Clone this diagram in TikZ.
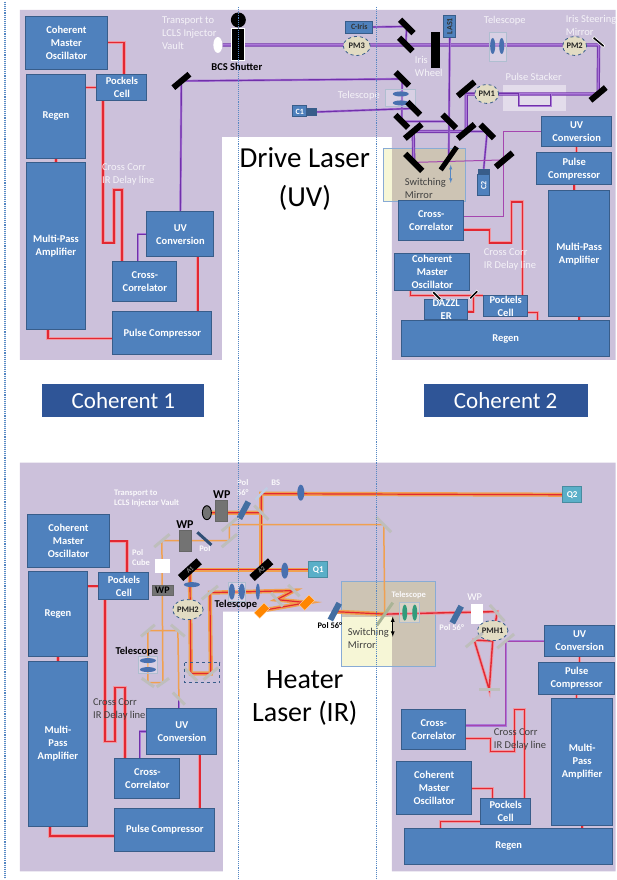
\documentclass[tikz,border=0pt]{standalone}
\usepackage{fontspec}
\setmainfont{Carlito}
\usetikzlibrary{shapes.geometric}
\tikzset{>=latex}
\pgfdeclarelayer{panel}
\pgfdeclarelayer{beam}
\pgfsetlayers{panel,beam,main}
\definecolor{panel_purple}{RGB}{204,193,219}
\definecolor{box_blue}{RGB}{79,129,189}
\definecolor{box_edge}{RGB}{56,93,138}
\definecolor{title_blue}{RGB}{47,85,151}
\definecolor{beam_red}{RGB}{226,40,50}
\definecolor{beam_pink}{RGB}{240,150,160}
\definecolor{beam_orange}{RGB}{240,160,80}
\definecolor{beam_violet}{RGB}{112,48,170}
\definecolor{beam_lilac}{RGB}{170,120,215}
\definecolor{beam_magenta}{RGB}{165,70,175}
\definecolor{mirror_grey}{RGB}{190,190,188}
\definecolor{mirror_green}{RGB}{170,180,150}
\definecolor{lens_blue}{RGB}{72,112,175}
\definecolor{monitor_tan}{RGB}{226,220,195}
\definecolor{switch_tan}{RGB}{205,196,180}
\definecolor{switch_pale}{RGB}{246,246,214}
\definecolor{wp_grey}{RGB}{115,115,115}
\definecolor{q_teal}{RGB}{90,175,200}
\definecolor{dotted_blue}{RGB}{85,135,195}
\begin{document}
\begin{tikzpicture}[x=1pt,y=-1pt]

	\tikzstyle{blue_box} = [rectangle, draw=box_edge, line width=0.9pt, fill=box_blue, text=white, align=center, inner sep=0pt, font=\fontsize{10.5}{13}\selectfont\bfseries]
	\tikzstyle{title_box} = [rectangle, fill=title_blue, text=white, minimum width=162, minimum height=33, font=\fontsize{23}{27}\selectfont]
	\tikzstyle{big_text} = [align=center, font=\fontsize{29}{38.5}\selectfont]
	\tikzstyle{pale_text} = [text=white!80!panel_purple, align=left, inner sep=0pt, font=\fontsize{10.5}{13}\selectfont]
	\tikzstyle{small_white} = [text=white!90!panel_purple, align=left, inner sep=0pt, font=\fontsize{8.5}{10}\selectfont\bfseries]
	\tikzstyle{dark_text} = [text=black!75, align=left, inner sep=0pt, font=\fontsize{10.5}{13}\selectfont]
	\tikzstyle{bold_black} = [text=black, inner sep=0pt, font=\fontsize{10.5}{12}\selectfont\bfseries]
	\tikzstyle{monitor} = [ellipse, draw=box_edge, dashed, line width=0.8pt, fill=monitor_tan, text=black!85, inner sep=0pt, font=\fontsize{8.5}{10}\selectfont\bfseries]
	\tikzstyle{mirror_black} = [rectangle, fill=black, minimum height=6, inner sep=0pt]
	\tikzstyle{mirror_light} = [rectangle, fill=mirror_grey, minimum height=3, inner sep=0pt]
	\tikzstyle{lens} = [ellipse, fill=lens_blue, inner sep=0pt]
	\tikzstyle{lens_frame} = [rectangle, draw=box_edge!40, fill=white, fill opacity=0.25, inner sep=0pt]
	\tikzstyle{wave_plate} = [rectangle, draw=black!60, fill=wp_grey, inner sep=0pt]
	\tikzstyle{q_box} = [rectangle, draw=q_teal!80!black, line width=0.8pt, fill=q_teal, text=white, inner sep=0pt, minimum width=19, minimum height=16, font=\fontsize{9}{10}\selectfont\bfseries]
	\tikzstyle{red_line} = [draw=beam_red, line width=1.4pt, preaction={draw=beam_pink, line width=3.2pt}]
	\tikzstyle{uv_line} = [draw=beam_violet, line width=1.1pt, preaction={draw=beam_lilac, line width=2.2pt}]
	\tikzstyle{uv_double} = [draw=beam_violet, line width=0.9pt, double=beam_lilac, double distance=1.5pt]
	\tikzstyle{mag_line} = [draw=beam_magenta, line width=1pt]
	\tikzstyle{hot_line} = [draw=beam_red, line width=1.2pt, preaction={draw=beam_orange, line width=4.2pt}]
	\tikzstyle{orange_line} = [draw=beam_orange, line width=1.5pt]

%------------------------------------------------------------
	\begin{pgfonlayer}{panel}
	\fill[panel_purple] (20,10) -- (616,10) -- (616,360) -- (392,360) -- (392,137) -- (222,137) -- (222,360) -- (20,360) -- cycle;
	\fill[panel_purple] (20,463) -- (616,463) -- (616,872) -- (392,872) -- (392,612) -- (223,612) -- (223,872) -- (20,872) -- cycle;
	\fill[switch_pale] (384,148) rectangle (392,201);
	\fill[switch_tan] (392,148) rectangle (466,201);
	\draw[dotted_blue!70, line width=0.7pt] (384,148) rectangle (466,201);
	\fill[switch_tan] (342,582) rectangle (436,667);
	\fill[switch_pale] (342,617) rectangle (392,667);
	\draw[dotted_blue!70, line width=0.7pt] (342,582) rectangle (436,667);
	\fill[white, opacity=0.45] (503,85) rectangle (566,111);
	\end{pgfonlayer}

%------------------------------------------------------------
	\node[blue_box, minimum width=83, minimum height=53] (cmo_a) at (66.5,42.5) {Coherent\\Master\\Oscillator};
	\node[blue_box, minimum width=60, minimum height=85] (regen_a) at (56,116.5) {Regen};
	\node[blue_box, minimum width=50, minimum height=27] (pockels_a) at (122,87.5) {Pockels\\Cell};
	\node[blue_box, minimum width=60, minimum height=167] (mpa_a) at (56,246.5) {Multi-Pass\\Amplifier};
	\node[blue_box, minimum width=67, minimum height=45] (uv_a) at (180.5,234.5) {UV\\Conversion};
	\node[blue_box, minimum width=64, minimum height=40] (cross_a) at (145,282) {Cross-\\Correlator};
	\node[blue_box, minimum width=99, minimum height=43] (comp_a) at (162.5,333.5) {Pulse Compressor};

	\node[blue_box, minimum width=70, minimum height=30] (uv_b) at (577,132) {UV\\Conversion};
	\node[blue_box, minimum width=75, minimum height=32] (comp_b) at (574.5,169) {Pulse\\Compressor};
	\node[blue_box, minimum width=61, minimum height=126] (mpa_b) at (579.5,254) {Multi-Pass\\Amplifier};
	\node[blue_box, minimum width=208, minimum height=36] (regen_b) at (506,339) {Regen};
	\node[blue_box, minimum width=65, minimum height=40] (cross_b) at (431.5,221) {Cross-\\Correlator};
	\node[blue_box, minimum width=75, minimum height=37] (cmo_b) at (432.5,272.5) {Coherent\\Master\\Oscillator};
	\node[blue_box, minimum width=43, minimum height=14] (dazzler) at (446.5,310) {DAZZL\\ER};
	\node[blue_box, minimum width=44, minimum height=21] (pockels_b) at (506,306.5) {Pockels\\Cell};

	\node[blue_box, minimum width=83, minimum height=53] (cmo_c) at (68.5,541.5) {Coherent\\Master\\Oscillator};
	\node[blue_box, minimum width=60, minimum height=85] (regen_c) at (58,614.5) {Regen};
	\node[blue_box, minimum width=50, minimum height=27] (pockels_c) at (124,586.5) {Pockels\\Cell};
	\node[blue_box, minimum width=60, minimum height=165] (mpa_c) at (58,744.5) {Multi-\\Pass\\Amplifier};
	\node[blue_box, minimum width=70, minimum height=46] (uv_c) at (182,732) {UV\\Conversion};
	\node[blue_box, minimum width=65, minimum height=40] (cross_c) at (147.5,779) {Cross-\\Correlator};
	\node[blue_box, minimum width=100, minimum height=43] (comp_c) at (165,830.5) {Pulse Compressor};

	\node[blue_box, minimum width=70, minimum height=31] (uv_d) at (580,641.5) {UV\\Conversion};
	\node[blue_box, minimum width=76, minimum height=32] (comp_d) at (577,679) {Pulse\\Compressor};
	\node[blue_box, minimum width=61, minimum height=127] (mpa_d) at (582.5,762.5) {Multi-\\Pass\\Amplifier};
	\node[blue_box, minimum width=208, minimum height=36] (regen_d) at (509,847) {Regen};
	\node[blue_box, minimum width=64, minimum height=40] (cross_d) at (434,730) {Cross-\\Correlator};
	\node[blue_box, minimum width=75, minimum height=53] (cmo_d) at (434.5,788.5) {Coherent\\Master\\Oscillator};
	\node[blue_box, minimum width=50, minimum height=26] (pockels_d) at (506,812) {Pockels\\Cell};

%------------------------------------------------------------
	\node[title_box] (title_a) at (123.5,400.5) {Coherent 1};
	\node[title_box, minimum width=164] (title_b) at (506,400.5) {Coherent 2};
	\node[big_text] (drive) at (305,179) {Drive Laser\\(UV)};
	\node[big_text, font=\fontsize{28}{33}\selectfont] (heater) at (305,698) {Heater\\Laser (IR)};

%------------------------------------------------------------
	\node[pale_text, anchor=west] (transport_a) at (162,33) {Transport to\\LCLS Injector\\Vault};
	\node[pale_text, anchor=west] (delay_a) at (102,174.5) {Cross Corr\\IR Delay line};
	\node[pale_text, anchor=west] (delay_b) at (484,259.5) {Cross Corr\\IR Delay line};
	\node[pale_text, anchor=west] (iris_wheel) at (415,66.5) {Iris\\Wheel};
	\node[pale_text] (tele_top) at (505,21) {Telescope};
	\node[pale_text, anchor=west] (iris_steer) at (566,25.5) {Iris Steering\\Mirror};
	\node[pale_text] (stacker) at (534,77) {Pulse Stacker};
	\node[pale_text, anchor=west] (tele_low) at (338,96) {Telescope};
	\node[bold_black] (bcs) at (237,67) {BCS Shutter};
	\node[dark_text, anchor=west] (switch_a) at (405,188.5) {Switching\\Mirror};

	\node[small_white, anchor=west] (transport_c) at (114,499) {Transport to\\LCLS Injector Vault};
	\node[small_white, anchor=west] (polcube) at (132,557.5) {Pol\\Cube};
	\node[dark_text, anchor=west] (delay_c) at (93,709.5) {Cross Corr\\IR Delay line};
	\node[dark_text, anchor=west] (delay_d) at (494,739.5) {Cross Corr\\IR Delay line};
	\node[dark_text, anchor=west] (switch_c) at (348,639) {Switching\\Mirror};
	\node[bold_black] (tele_c) at (137,652) {Telescope};
	\node[bold_black] (tele_e) at (236,605) {Telescope};
	\node[small_white, align=center] (pol_lab_a) at (243,487.5) {Pol\\56°};
	\node[small_white] (bs_lab) at (276,483) {BS};
	\node[small_white] (pol_lab_b) at (205,549) {Pol};
	\node[bold_black, font=\fontsize{8.5}{10}\selectfont\bfseries] (pol_lab_c) at (330,626) {Pol 56°};
	\node[small_white] (pol_lab_d) at (452,628) {Pol 56°};
	\node[small_white] (tele_f) at (409,596) {Telescope};
	\node[pale_text, text=white] (wp_lab_d) at (475,597) {WP};
	\node[bold_black, font=\fontsize{12}{12}\selectfont\bfseries] (wp_lab_a) at (185,525) {WP};
	\node[bold_black, font=\fontsize{12}{12}\selectfont\bfseries] (wp_lab_b) at (222,495) {WP};

%------------------------------------------------------------
	\node[rectangle, draw=white, line width=0.8pt, fill=black, minimum width=13, minimum height=32] (shutter) at (238.5,44) {};
	\node[circle, fill=black, minimum size=15, inner sep=0pt] (shutter_head) at (238.5,20) {};
	\node[ellipse, fill=white, minimum width=9, minimum height=16, inner sep=0pt] (lamp) at (218,45) {};
	\node[monitor, minimum width=27, minimum height=19] (pm3) at (357,46) {PM3};
	\node[monitor, minimum width=24, minimum height=19] (pm2) at (575,46) {PM2};
	\node[monitor, minimum width=24, minimum height=19] (pm1) at (487,94) {PM1};
	\node[rectangle, fill=black, minimum width=9, minimum height=36, inner sep=0pt] (iris_wh) at (435.5,50) {};
	\node[blue_box, minimum width=27, minimum height=12, text=black!80, font=\fontsize{8}{10}\selectfont\bfseries] (c_iris) at (359.5,27) {C-Iris};
	\node[blue_box, rotate=90, minimum width=22, minimum height=12, text=black!80, font=\fontsize{8}{10}\selectfont\bfseries] (las_a) at (450,26) {LAS1};
	\node[blue_box, minimum width=14, minimum height=11, font=\fontsize{8}{10}\selectfont\bfseries] (c_one) at (300,111.5) {C1};
	\node[rectangle, fill=box_edge, minimum width=10, minimum height=8, inner sep=0pt] (c_one_lens) at (312,112) {};
	\node[blue_box, rotate=90, minimum width=21, minimum height=12, font=\fontsize{8}{10}\selectfont\bfseries] (c_two) at (484,185.5) {C2};
	\node[rectangle, fill=box_edge, minimum width=12, minimum height=6, inner sep=0pt] (c_two_lens) at (484,172) {};

	\node[lens_frame, minimum width=18, minimum height=29] (frame_a) at (498,46.5) {};
	\node[lens, minimum width=5, minimum height=16] (lens_a) at (493,46) {};
	\node[lens, minimum width=5, minimum height=16] (lens_b) at (502,46) {};
	\node[lens_frame, minimum width=30, minimum height=17] (frame_b) at (400,97.5) {};
	\node[lens, minimum width=16, minimum height=5] (lens_c) at (401,94) {};
	\node[lens, minimum width=16, minimum height=5] (lens_d) at (401,103) {};

	\node[mirror_black, minimum width=21, rotate=40] (mirror_out) at (181.5,81) {};
	\node[mirror_black, minimum width=19, rotate=-45] (mirror_c1) at (407,26.5) {};
	\node[mirror_black, minimum width=19, rotate=-45] (mirror_c2) at (406,44.5) {};
	\node[rectangle, draw=white, line width=0.6pt, fill=black, minimum width=14, minimum height=2.5, inner sep=0pt, rotate=-40] (mirror_iris) at (599,42) {};
	\node[mirror_black, minimum width=20, rotate=40] (mirror_ret) at (598.5,94) {};
	\node[mirror_black, minimum width=22, rotate=40] (mirror_stk) at (466.5,89) {};
	\node[mirror_black, minimum width=19, rotate=-45] (mirror_tel) at (402.5,79) {};
	\node[mirror_black, minimum width=18, rotate=-45] (mirror_cam) at (414,108.5) {};
	\node[mirror_black, minimum width=18, rotate=-45] (mirror_tl) at (402,121.5) {};
	\node[mirror_black, minimum width=22, rotate=40] (mirror_bs) at (413.5,131.5) {};
	\node[mirror_black, minimum width=19, rotate=-45] (mirror_las) at (449.5,121.5) {};
	\node[mirror_black, minimum width=22, rotate=40] (mirror_low) at (466.5,131.5) {};
	\node[mirror_black, minimum width=19, rotate=-45] (mirror_cam_b) at (487.5,131.5) {};
	\node[mirror_black, minimum width=22, rotate=40] (mirror_fold) at (504.5,160) {};
	\node[mirror_black, minimum width=24, rotate=-45] (mirror_sw_a) at (414,162.5) {};
	\node[mirror_black, minimum width=28, minimum height=5, rotate=55] (mirror_sw_b) at (449,158.5) {};
	\node[rectangle, draw=white, line width=0.6pt, fill=black, minimum width=11, minimum height=2.5, inner sep=0pt, rotate=-45] (mirror_daz_a) at (437,296) {};
	\node[rectangle, draw=white, line width=0.6pt, fill=black, minimum width=11, minimum height=2.5, inner sep=0pt, rotate=45] (mirror_daz_b) at (474,295) {};

%------------------------------------------------------------
	\node[wave_plate, minimum width=12, minimum height=21] (wp_a) at (185,541.5) {};
	\node[wave_plate, minimum width=12, minimum height=21] (wp_b) at (221,511.5) {};
	\node[wave_plate, minimum width=21, minimum height=10, text=black, font=\fontsize{10}{10}\selectfont\bfseries] (wp_c) at (162.5,591) {WP};
	\node[ellipse, draw=black, line width=0.9pt, fill=wp_grey, minimum width=9, minimum height=14, inner sep=0pt] (source) at (207,513) {};
	\node[rectangle, fill=box_edge!85!black, minimum width=19, minimum height=3, inner sep=0pt, rotate=-42] (pol_a) at (204.5,539) {};
	\node[rectangle, fill=box_blue!85!black, minimum width=19, minimum height=6, inner sep=0pt, rotate=62] (pol_b) at (244,510.5) {};
	\node[rectangle, fill=box_blue!85!black, minimum width=19, minimum height=6, inner sep=0pt, rotate=62] (pol_c) at (335,612) {};
	\node[rectangle, fill=box_blue!85!black, minimum width=19, minimum height=6, inner sep=0pt, rotate=62] (pol_d) at (457,615) {};
	\node[rectangle, fill=white, minimum width=15, minimum height=14, inner sep=0pt] (pol_cube) at (162.5,566) {};
	\node[rectangle, fill=white, minimum width=12, minimum height=20, inner sep=0pt] (wp_d) at (477,614) {};
	\node[q_box] (q_one) at (318.5,570) {Q1};
	\node[q_box] (q_two) at (572.5,495) {Q2};
	\node[monitor, minimum width=28, minimum height=20] (pmh_two) at (188,610) {PMH2};
	\node[monitor, minimum width=29, minimum height=20] (pmh_one) at (493,631) {PMH1};

	\node[mirror_black, minimum width=25, minimum height=8, rotate=42, text=black!45, font=\fontsize{6.5}{7}\selectfont\bfseries] (att_a) at (190,570) {A1};
	\node[mirror_black, minimum width=25, minimum height=8, rotate=42, text=black!45, font=\fontsize{6.5}{7}\selectfont\bfseries] (att_b) at (261.5,570) {A2};
	\node[rectangle, draw=white!70!orange, fill=orange!95!yellow, minimum width=14, minimum height=8, inner sep=0pt, rotate=45] (orange_a) at (262,611) {};
	\node[rectangle, draw=white!70!orange, fill=orange!95!yellow, minimum width=14, minimum height=8, inner sep=0pt, rotate=45] (orange_b) at (307,603) {};

	\node[mirror_light, minimum width=20, rotate=40] (grey_a) at (162,541) {};
	\node[mirror_light, minimum width=20, rotate=40] (grey_b) at (229.5,541) {};
	\node[mirror_light, minimum width=20, rotate=40] (grey_c) at (229.5,525) {};
	\node[mirror_light, minimum width=20, rotate=-45] (grey_d) at (261.5,513) {};
	\node[rectangle, fill=lens_blue!35!white, minimum width=17, minimum height=2.5, inner sep=0pt, rotate=45] (splitter) at (261.5,494) {};
	\node[mirror_light, minimum width=21, rotate=-45] (grey_e) at (384,525) {};
	\node[mirror_light, minimum width=21, rotate=40] (grey_f) at (210,593) {};
	\node[mirror_light, minimum width=16, rotate=-45] (grey_g) at (294,591) {};
	\node[mirror_light, minimum width=18, rotate=-50] (grey_h) at (277,600) {};
	\node[mirror_light, minimum width=18, rotate=-45] (grey_i) at (191,675) {};
	\node[mirror_light, minimum width=19, rotate=40] (grey_j) at (211,674) {};
	\node[mirror_light, minimum width=18, rotate=40] (grey_k) at (148,631) {};
	\node[mirror_light, minimum width=18, rotate=-40] (grey_l) at (178,631) {};
	\node[mirror_light, minimum width=15, rotate=-35] (grey_m) at (148,683) {};
	\node[mirror_light, minimum width=15, rotate=35] (grey_n) at (163,683) {};
	\node[mirror_light, minimum width=17, rotate=-45] (grey_o) at (179,699) {};
	\node[rectangle, fill=mirror_green, minimum width=28, minimum height=3, inner sep=0pt, rotate=55] (switch_c_mirror) at (385,614.5) {};
	\node[mirror_light, minimum width=22, rotate=-48] (grey_p) at (497.5,613.5) {};
	\node[mirror_light, minimum width=22, rotate=40] (grey_q) at (474.5,640.5) {};
	\node[mirror_light, minimum width=22, rotate=40] (grey_r) at (506,641.5) {};
	\node[mirror_light, minimum width=21] (grey_s) at (489.5,690) {};

	\node[lens, minimum width=7, minimum height=16] (lens_e) at (301,493) {};
	\node[lens, minimum width=7, minimum height=16] (lens_f) at (285,571) {};
	\node[lens, minimum width=16, minimum height=5] (lens_g) at (192,585) {};
	\node[lens_frame, minimum width=17, minimum height=19] (frame_c) at (236.5,592.5) {};
	\node[lens, minimum width=6, minimum height=16] (lens_h) at (232,592) {};
	\node[lens, minimum width=6, minimum height=16] (lens_i) at (242,592) {};
	\node[lens, minimum width=4, minimum height=16] (lens_j) at (258,592) {};
	\node[lens_frame, minimum width=19, minimum height=17] (frame_d) at (148,665.5) {};
	\node[lens, minimum width=16, minimum height=5] (lens_k) at (148,661) {};
	\node[lens, minimum width=16, minimum height=5] (lens_l) at (148,670) {};
	\node[lens_frame, minimum width=20, minimum height=20] (frame_e) at (409,613) {};
	\node[lens, fill=lens_blue!70!green, minimum width=5, minimum height=16] (lens_m) at (405,613) {};
	\node[lens, fill=lens_blue!70!green, minimum width=5, minimum height=16] (lens_n) at (415,613) {};
	\draw[dashed, draw=box_edge, line width=0.8pt] (185,663) rectangle (220,683);

%------------------------------------------------------------
	\begin{pgfonlayer}{beam}
	\draw[red_line] (cmo_a.east) -| ([xshift=2pt]pockels_a.north);
	\draw[red_line] (regen_a.east |- pockels_a.west) -- (pockels_a.west);
	\draw[red_line] (regen_a.south) -- (mpa_a.north);
	\draw[red_line] ([xshift=-19pt]pockels_a.south) -- (103,243) -- (114,243) -- (114,190) -- (122,190) -- ([xshift=-23pt]cross_a.north);
	\draw[red_line] ([xshift=-8pt]mpa_a.south) |- ([yshift=-5.5pt]comp_a.west);
	\draw[red_line] ([xshift=17.5pt]uv_a.south) -- ([xshift=35.5pt]comp_a.north);
	\draw[uv_line] ([xshift=-7pt]cross_a.north) |- (uv_a.west);
	\draw[uv_line] (uv_a.north) -- (mirror_out.center) -- (mirror_tel.center) -- (mirror_tl.center) -- (mirror_las.center);
	\draw[uv_double] (lamp.east) -- (mirror_iris |- lamp) -- (mirror_ret.center) -- (mirror_stk |- mirror_ret) -- (mirror_low.center) -- (mirror_bs.center) -- (mirror_sw_a.center);
	\draw[uv_line] (c_iris.east) -- (mirror_c1.center) -- (mirror_c2.center);
	\draw[uv_line] (las_a.west) -- (mirror_sw_b.center);
	\draw[uv_line] (c_one_lens.east) -- (mirror_cam.center);
	\draw[uv_line] (mirror_low.center) -- (mirror_cam_b.center) -- (c_two_lens.north);
	\draw[uv_line] (mirror_stk.center |- mirror_ret) -- (519,94) -- (519,106) -- (551,106) -- (551,94);
	\draw[mag_line] (mirror_sw_a.center) -- (mirror_fold.center);
	\draw[mag_line] (uv_b.west) -- (504,132) -- (504,217) -- ([yshift=4pt]cross_b.east);

	\draw[red_line] (uv_b.south) -- (uv_b.south |- comp_b.north);
	\draw[red_line] (comp_b.south) -- (comp_b.south |- mpa_b.north);
	\draw[red_line] (mpa_b.south) -- (mpa_b.south |- regen_b.north);
	\draw[red_line] ([yshift=-9pt]cross_b.east) -- (490,230) -- (490,243) -- (512,243) -- (512,202) -- (523,202) -- ([xshift=17pt]pockels_b.north);
	\draw[red_line] ([xshift=-22pt]cmo_b.south) |- (pockels_b.north west);
	\draw[red_line] ([yshift=-2pt]dazzler.east) -| (mirror_daz_b.center);
	\draw[red_line] ([yshift=-6pt]pockels_b.east) -| ([xshift=32pt]regen_b.north);

%------------------------------------------------------------
	\draw[red_line] (cmo_c.east) -| ([xshift=3pt]pockels_c.north);
	\draw[red_line] (regen_c.east |- pockels_c.west) -- (pockels_c.west);
	\draw[red_line] (regen_c.south) -- (mpa_c.north);
	\draw[red_line] ([xshift=-19pt]pockels_c.south) -- (105,742) -- (115,742) -- (115,688) -- (125,688) -- ([xshift=-22.5pt]cross_c.north);
	\draw[red_line] ([xshift=-8pt]mpa_c.south) |- ([yshift=-6pt]comp_c.west);
	\draw[red_line] ([xshift=18pt]uv_c.south) -- ([xshift=35pt]comp_c.north);
	\draw[uv_line] ([xshift=-7.5pt]cross_c.north) |- (uv_c.west);

	\draw[hot_line] (source.east) -- (grey_d.center) -- (splitter.center) -- (q_two.west);
	\draw[hot_line] (grey_d.center) -- (att_b.center);
	\draw[hot_line] (att_a.center) -- (q_one.west);
	\draw[hot_line] (att_a.center) -- (grey_i.center |- grey_j) -- (grey_j.center) -- (grey_f.center) -- (grey_g.center) -- (grey_h.center) -- (orange_b.center) -- (orange_a.center);
	\draw[hot_line] (pol_c.center) -- (switch_c_mirror.center);
	\draw[orange_line] (grey_a.center) -- (grey_b.center) -- (grey_c.center) -- (grey_e.center) -- (switch_c_mirror.center);
	\draw[orange_line] (grey_a.center) -- (grey_n.center) -- (grey_m.center) -- (grey_k.center) -- (grey_l.center) -- (grey_o.center);
	\draw[uv_line] (grey_o.center) -- (grey_o |- uv_c.north);
	\draw[red_line] (switch_c_mirror.center) -- (grey_p.center |- pol_c) -- (pmh_one.south) -- (grey_q.center) -- (grey_s.center) -- (pmh_one.south);

	\draw[red_line] (uv_d.south) -- (uv_d.south |- comp_d.north);
	\draw[red_line] (comp_d.south) -- (comp_d.south |- mpa_d.north);
	\draw[red_line] (mpa_d.south) -- (mpa_d.south |- regen_d.north);
	\draw[red_line] ([yshift=-9pt]cross_d.east) -- (491,739) -- (491,752) -- (515,752) -- (515,710) -- (525,710) -- ([xshift=19pt]pockels_d.north);
	\draw[red_line] ([yshift=-.5pt]cmo_d.east) -| ([xshift=-13pt]pockels_d.north);
	\draw[red_line] ([yshift=-10pt]pockels_d.west) -| ([xshift=-68pt]regen_d.north);
	\draw[uv_line, draw=beam_magenta] (uv_d.west) -- (grey_r.center) |- ([yshift=4pt]cross_d.east);
	\end{pgfonlayer}

%------------------------------------------------------------
	\draw[<->, draw=dotted_blue, line width=0.6pt] (451,165) -- (451,183);
	\draw[<->, draw=black, line width=0.8pt] (393,617) -- (393,637);
	\draw[densely dotted, dotted_blue, line width=1.1pt] (5,2) -- (5,878);
	\draw[densely dotted, dotted_blue, line width=1.1pt] (238.5,7) -- (238.5,880);
	\draw[densely dotted, dotted_blue, line width=1.1pt] (377,7) -- (377,880);

	\useasboundingbox (0,0) rectangle (616,880);
\end{tikzpicture}
\end{document}
